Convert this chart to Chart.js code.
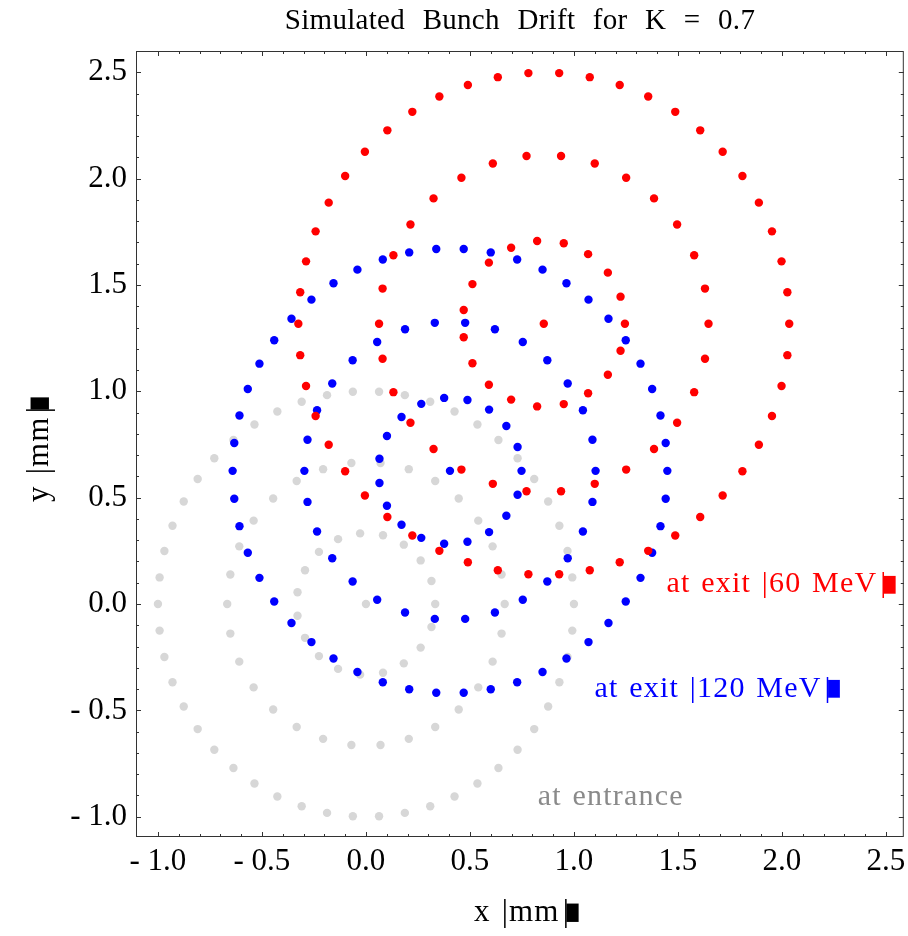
<!DOCTYPE html>
<html>
<head>
<meta charset="utf-8">
<script src="https://cdn.jsdelivr.net/npm/chart.js@4.4.1/dist/chart.umd.min.js"></script>
<style>
  html, body { margin: 0; padding: 0; background: #fff; }
  canvas { display: block; }
</style>
</head>
<body>
<canvas id="drift" width="908" height="936"></canvas>
<script>
// ---- entrance (grey), three rings + centre
const inOuterX = [1.000,0.992,0.969,0.930,0.876,0.809,0.729,0.637,0.536,0.426,0.309,0.187,0.063,-0.063,-0.187,-0.309,-0.426,-0.536,-0.637,-0.729,-0.809,-0.876,-0.930,-0.969,-0.992,-1.000,-0.992,-0.969,-0.930,-0.876,-0.809,-0.729,-0.637,-0.536,-0.426,-0.309,-0.187,-0.063,0.063,0.187,0.309,0.426,0.536,0.637,0.729,0.809,0.876,0.930,0.969,0.992];
const inOuterY = [0.000,0.125,0.249,0.368,0.482,0.588,0.685,0.771,0.844,0.905,0.951,0.982,0.998,0.998,0.982,0.951,0.905,0.844,0.771,0.685,0.588,0.482,0.368,0.249,0.125,0.000,-0.125,-0.249,-0.368,-0.482,-0.588,-0.685,-0.771,-0.844,-0.905,-0.951,-0.982,-0.998,-0.998,-0.982,-0.951,-0.905,-0.844,-0.771,-0.685,-0.588,-0.482,-0.368,-0.249,-0.125];
const inMidX = [0.667,0.652,0.609,0.540,0.446,0.333,0.206,0.070,-0.070,-0.206,-0.333,-0.446,-0.540,-0.609,-0.652,-0.667,-0.652,-0.609,-0.540,-0.446,-0.333,-0.206,-0.070,0.070,0.206,0.333,0.446,0.540,0.609,0.652];
const inMidY = [0.000,0.139,0.271,0.392,0.496,0.578,0.634,0.663,0.663,0.634,0.578,0.496,0.392,0.271,0.139,0.000,-0.139,-0.271,-0.392,-0.496,-0.578,-0.634,-0.663,-0.663,-0.634,-0.578,-0.496,-0.392,-0.271,-0.139];
const inInnerX = [0.333,0.315,0.263,0.182,0.082,-0.028,-0.134,-0.226,-0.293,-0.329,-0.329,-0.293,-0.226,-0.134,-0.028,0.082,0.182,0.263,0.315];
const inInnerY = [0.000,0.108,0.205,0.279,0.323,0.332,0.305,0.245,0.159,0.055,-0.055,-0.159,-0.245,-0.305,-0.332,-0.323,-0.279,-0.205,-0.108];
const inCentre = [0.000, 0.000];

// ---- exit at 120 MeV (blue)
const e120OuterX = [1.449,1.441,1.416,1.376,1.320,1.249,1.166,1.070,0.964,0.849,0.727,0.600,0.470,0.338,0.208,0.081,-0.041,-0.156,-0.262,-0.358,-0.441,-0.512,-0.568,-0.608,-0.633,-0.641,-0.633,-0.608,-0.568,-0.512,-0.441,-0.358,-0.262,-0.156,-0.041,0.081,0.208,0.338,0.470,0.600,0.727,0.849,0.964,1.070,1.166,1.249,1.320,1.376,1.416,1.441];
const e120OuterY = [0.626,0.757,0.886,1.011,1.130,1.240,1.341,1.431,1.508,1.572,1.620,1.653,1.669,1.669,1.653,1.620,1.572,1.508,1.431,1.341,1.240,1.130,1.011,0.886,0.757,0.626,0.495,0.366,0.241,0.123,0.012,-0.089,-0.179,-0.256,-0.320,-0.368,-0.401,-0.417,-0.417,-0.401,-0.368,-0.320,-0.256,-0.179,-0.089,0.012,0.123,0.241,0.366,0.495];
const e120MidX = [1.104,1.089,1.043,0.970,0.872,0.754,0.620,0.477,0.331,0.188,0.054,-0.064,-0.162,-0.235,-0.281,-0.296,-0.281,-0.235,-0.162,-0.064,0.054,0.188,0.331,0.477,0.620,0.754,0.872,0.970,1.043,1.089];
const e120MidY = [0.626,0.772,0.911,1.037,1.146,1.232,1.292,1.322,1.322,1.292,1.232,1.146,1.037,0.911,0.772,0.626,0.480,0.341,0.215,0.106,0.020,-0.040,-0.070,-0.070,-0.040,0.020,0.106,0.215,0.341,0.480];
const e120InnerX = [0.748,0.729,0.675,0.592,0.488,0.376,0.266,0.171,0.101,0.065,0.065,0.101,0.171,0.266,0.376,0.488,0.592,0.675,0.729];
const e120InnerY = [0.626,0.738,0.837,0.914,0.959,0.969,0.941,0.879,0.790,0.683,0.569,0.462,0.373,0.311,0.283,0.293,0.338,0.415,0.514];
const e120Centre = [0.404, 0.626];

// ---- exit at 60 MeV (red)
const e60OuterX = [2.035,2.026,1.998,1.952,1.889,1.810,1.715,1.607,1.487,1.357,1.220,1.076,0.929,0.781,0.634,0.490,0.353,0.223,0.103,-0.005,-0.100,-0.179,-0.242,-0.288,-0.316,-0.325,-0.316,-0.288,-0.242,-0.179,-0.100,-0.005,0.103,0.223,0.353,0.490,0.634,0.781,0.929,1.076,1.220,1.357,1.487,1.607,1.715,1.810,1.889,1.952,1.998,2.026];
const e60OuterY = [1.318,1.466,1.611,1.752,1.887,2.012,2.126,2.227,2.314,2.386,2.440,2.477,2.496,2.496,2.477,2.440,2.386,2.314,2.227,2.126,2.012,1.887,1.752,1.611,1.466,1.318,1.170,1.025,0.884,0.749,0.624,0.510,0.409,0.322,0.250,0.196,0.159,0.140,0.140,0.159,0.196,0.250,0.322,0.409,0.510,0.624,0.749,0.884,1.025,1.170];
const e60MidX = [1.647,1.630,1.578,1.496,1.385,1.251,1.100,0.938,0.772,0.610,0.459,0.325,0.214,0.132,0.080,0.063,0.080,0.132,0.214,0.325,0.459,0.610,0.772,0.938,1.100,1.251,1.385,1.496,1.578,1.630];
const e60MidY = [1.318,1.483,1.640,1.784,1.907,2.004,2.071,2.106,2.106,2.071,2.004,1.907,1.784,1.640,1.483,1.318,1.153,0.996,0.852,0.729,0.632,0.565,0.530,0.530,0.565,0.632,0.729,0.852,0.996,1.153];
const e60InnerX = [1.245,1.224,1.163,1.068,0.951,0.823,0.698,0.591,0.512,0.470,0.470,0.512,0.591,0.698,0.823,0.951,1.068,1.163,1.224];
const e60InnerY = [1.318,1.445,1.558,1.645,1.696,1.707,1.675,1.605,1.504,1.382,1.254,1.132,1.031,0.961,0.929,0.940,0.991,1.078,1.191];
const e60Centre = [0.855, 1.318];

// ---- axes
const xTickValues = [-1.0, -0.5, 0.0, 0.5, 1.0, 1.5, 2.0, 2.5];
const xTickLabels = ["- 1.0", "- 0.5", "0.0", "0.5", "1.0", "1.5", "2.0", "2.5"];
const yTickValues = [-1.0, -0.5, 0.0, 0.5, 1.0, 1.5, 2.0, 2.5];
const yTickLabels = ["- 1.0", "- 0.5", "0.0", "0.5", "1.0", "1.5", "2.0", "2.5"];

const titleText = "Simulated Bunch Drift for K = 0.7";
const xTitle = "x |mm";
const yTitle = "y |mm";

const serif = "'Liberation Serif', 'Times New Roman', serif";

// minor ticks every 0.1 between the labelled ones
function minorTicks(major) {
  const out = [];
  for (let i = 0; i < major.length - 1; i++) {
    for (let k = 1; k < 5; k++) out.push(major[i] + k * 0.1);
  }
  return out;
}

function ring(xs, ys) {
  return xs.map((x, i) => ({ x: x, y: ys[i] }));
}

const entrance = ring(inOuterX, inOuterY).concat(
  ring(inMidX, inMidY), ring(inInnerX, inInnerY),
  [{ x: inCentre[0], y: inCentre[1] }]);
const exit120 = ring(e120OuterX, e120OuterY).concat(
  ring(e120MidX, e120MidY), ring(e120InnerX, e120InnerY),
  [{ x: e120Centre[0], y: e120Centre[1] }]);
const exit60 = ring(e60OuterX, e60OuterY).concat(
  ring(e60MidX, e60MidY), ring(e60InnerX, e60InnerY),
  [{ x: e60Centre[0], y: e60Centre[1] }]);

// text labels placed in data coordinates
const notes = [
  { text: "at exit |60 MeV", x: 1.445, y: 0.056, color: "#ff0000", close: true },
  { text: "at exit |120 MeV", x: 1.099, y: -0.437, color: "#0000ff", close: true },
  { text: "at entrance", x: 0.826, y: -0.945, color: "#8a8a8a", close: false }
];

function spacing(ctx, ls, ws) {
  if ("letterSpacing" in ctx) ctx.letterSpacing = ls + "px";
  if ("wordSpacing" in ctx) ctx.wordSpacing = ws + "px";
}

// text followed by the broken closing bracket (thin bar + small block)
function bracketText(ctx, text, x, y, size, close) {
  ctx.textAlign = "left";
  ctx.textBaseline = "alphabetic";
  ctx.font = size + "px " + serif;
  spacing(ctx, 1.2, 2);
  ctx.fillText(text, x, y);
  const w = ctx.measureText(text).width;
  spacing(ctx, 0, 0);
  if (!close) return;
  const bx = x + w + 3;
  ctx.fillText("|", bx, y);
  const bw = ctx.measureText("|").width;
  ctx.font = size + "px 'DejaVu Sans'";
  const qw = ctx.measureText("\u2597").width;
  ctx.fillText("\u2597", bx + bw * 0.62 - qw / 2, y - size * 0.22);
}

const framePlugin = {
  id: "frame",
  afterDraw(chart) {
    const { ctx, chartArea: a } = chart;
    const sx = chart.scales.x, sy = chart.scales.y;
    ctx.save();

    // frame
    ctx.strokeStyle = "#333";
    ctx.lineWidth = 1;
    ctx.strokeRect(a.left + 0.5, a.top + 0.5, a.right - a.left - 1, a.bottom - a.top - 1);

    // ticks, inside on all four sides
    ctx.beginPath();
    const xt = (v, len) => {
      const p = Math.round(sx.getPixelForValue(v)) + 0.5;
      ctx.moveTo(p, a.bottom); ctx.lineTo(p, a.bottom - len);
      ctx.moveTo(p, a.top); ctx.lineTo(p, a.top + len);
    };
    const yt = (v, len) => {
      const p = Math.round(sy.getPixelForValue(v)) + 0.5;
      ctx.moveTo(a.left, p); ctx.lineTo(a.left + len, p);
      ctx.moveTo(a.right, p); ctx.lineTo(a.right - len, p);
    };
    xTickValues.forEach(v => xt(v, 5));
    minorTicks(xTickValues).forEach(v => xt(v, 3));
    yTickValues.forEach(v => yt(v, 5));
    minorTicks(yTickValues).forEach(v => yt(v, 3));
    ctx.stroke();

    // title
    ctx.fillStyle = "#000";
    ctx.font = "29px " + serif;
    ctx.textAlign = "center";
    ctx.textBaseline = "alphabetic";
    spacing(ctx, 0.3, 10);
    ctx.fillText(titleText, 520, 29);
    spacing(ctx, 0, 0);

    // axis titles
    bracketText(ctx, xTitle, 474, 921, 31, true);
    ctx.save();
    ctx.translate(48, 502);
    ctx.rotate(-Math.PI / 2);
    bracketText(ctx, yTitle, 0, 0, 31, true);
    ctx.restore();

    // annotations
    notes.forEach(n => {
      ctx.fillStyle = n.color;
      bracketText(ctx, n.text, sx.getPixelForValue(n.x), sy.getPixelForValue(n.y), 30, n.close);
    });

    ctx.restore();
  }
};

const dot = { pointRadius: 4.2, pointHoverRadius: 4.2, borderWidth: 0, showLine: false };

new Chart(document.getElementById("drift"), {
  type: "scatter",
  data: {
    datasets: [
      Object.assign({ label: "at exit (60 MeV)", data: exit60, backgroundColor: "#ff0000" }, dot),
      Object.assign({ label: "at exit (120 MeV)", data: exit120, backgroundColor: "#0000ff" }, dot),
      Object.assign({ label: "at entrance", data: entrance, backgroundColor: "#d7d7d7" }, dot)
    ]
  },
  options: {
    responsive: false,
    animation: false,
    devicePixelRatio: 1,
    layout: { padding: { top: 51, right: 2, left: 0, bottom: 0 } },
    plugins: {
      legend: { display: false },
      tooltip: { enabled: false },
      title: { display: false }
    },
    scales: {
      x: {
        type: "linear",
        min: -1.1055,
        max: 2.5858,
        grid: { display: false, drawTicks: false },
        border: { display: false },
        afterBuildTicks: s => { s.ticks = xTickValues.map(v => ({ value: v })); },
        afterFit: s => { s.height = 99; s.paddingLeft = 0; s.paddingRight = 0; },
        ticks: {
          autoSkip: false,
          maxRotation: 0,
          padding: 6,
          color: "#000",
          font: { family: serif, size: 31 },
          callback: (v, i) => xTickLabels[i]
        }
      },
      y: {
        type: "linear",
        min: -1.0954,
        max: 2.6,
        grid: { display: false, drawTicks: false },
        border: { display: false },
        afterBuildTicks: s => { s.ticks = yTickValues.map(v => ({ value: v })); },
        afterFit: s => { s.width = 136; s.paddingTop = 0; s.paddingBottom = 0; },
        ticks: {
          autoSkip: false,
          padding: 9,
          color: "#000",
          font: { family: serif, size: 31 },
          callback: (v, i) => yTickLabels[i]
        }
      }
    }
  },
  plugins: [framePlugin]
});
</script>
</body>
</html>
